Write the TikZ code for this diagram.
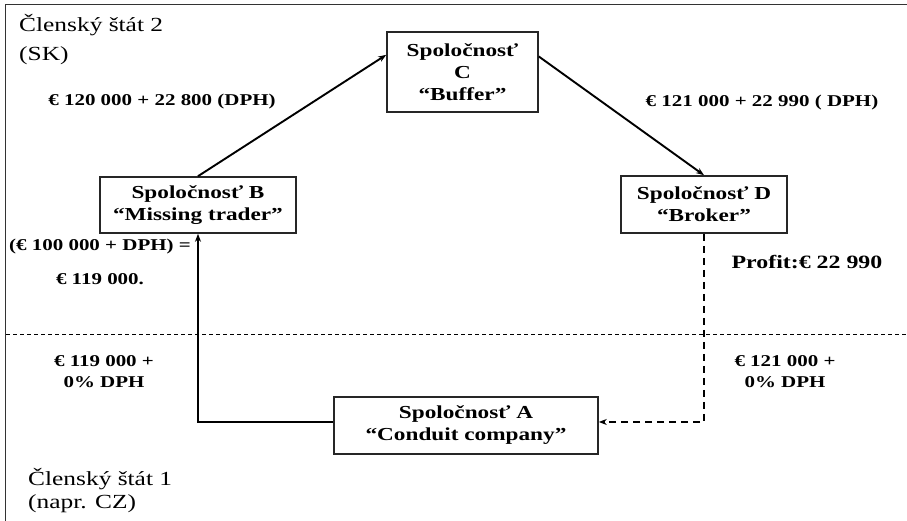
\documentclass[tikz,border=0pt]{standalone}
\usepackage{fontspec}
\setmainfont{Liberation Serif}[FakeStretch=1.27]
\usetikzlibrary{arrows.meta,calc}
\begin{document}
\begin{tikzpicture}[x=1pt,y=-1pt,
  company/.style={draw=black!85, line width=1.6pt, fill=white, align=center,
    font=\fontsize{18.3}{22}\selectfont\bfseries, inner sep=0pt},
  amount/.style={font=\fontsize{16.5}{21}\selectfont\bfseries, align=center, inner sep=0pt},
  region/.style={font=\fontsize{20}{24}\selectfont, anchor=base west, inner sep=0pt},
  flow/.style={line width=1.9pt, -{Stealth[length=8pt,width=6pt]}},
  flowdash/.style={flow, line width=2pt, dash pattern=on 7pt off 5pt}]
\useasboundingbox (0,0) rectangle (907,521);

% frame and border between the member states
\draw[line width=1.8pt, black!80] (907,4.5) -- (5.5,4.5) -- (5.5,521);
\draw[line width=1pt, dash pattern=on 4pt off 3pt] (6,334) -- (907,334);

% companies
\node[company, minimum width=151pt, minimum height=80pt] (C) at (462.5,72) {Spoločnosť\\C\\“Buffer”};
\node[company, minimum width=196pt, minimum height=56pt] (B) at (198,205) {Spoločnosť B\\“Missing trader”};
\node[company, minimum width=166pt, minimum height=57pt] (D) at (704,204.5) {Spoločnosť D\\“Broker”};
\node[company, minimum width=264pt, minimum height=57pt] (A) at (466,425.5) {Spoločnosť A\\“Conduit company”};

% flows of goods and invoices
\draw[flow] (B.north) -- ($(C.north west)!0.29!(C.south west)$);
\draw[flow] ($(C.north east)!0.31!(C.south east)$) -- (D.north);
\draw[flow] ($(A.north west)!0.44!(A.south west)$) -| (B.south);
\draw[flowdash] (D.south) |- ($(A.north east)!0.44!(A.south east)$);

% amounts
\node[amount] (l1) at (162,102) {€ 120 000 + 22 800 (DPH)};
\node[amount] (l2) at (762,103) {€ 121 000 + 22 990 ( DPH)};
\node[amount] (l3) at (100,247) {(€ 100 000 + DPH) =};
\node[amount] (l4) at (100,279) {€ 119 000.};
\node[amount, font=\fontsize{18.8}{20}\selectfont\bfseries] (l5) at (807,262) {Profit:€ 22 990};
\node[amount] (l6) at (104,372) {€ 119 000 +\\0\% DPH};
\node[amount] (l7) at (785,372) {€ 121 000 +\\0\% DPH};

% member states
\node[region] (s2a) at (19,31.5) {Členský štát 2};
\node[region] (s2b) at (19,60.5) {(SK)};
\node[region] (s1a) at (28,485) {Členský štát 1};
\node[region] (s1b) at (28,508) {(napr. CZ)};
\end{tikzpicture}
\end{document}
